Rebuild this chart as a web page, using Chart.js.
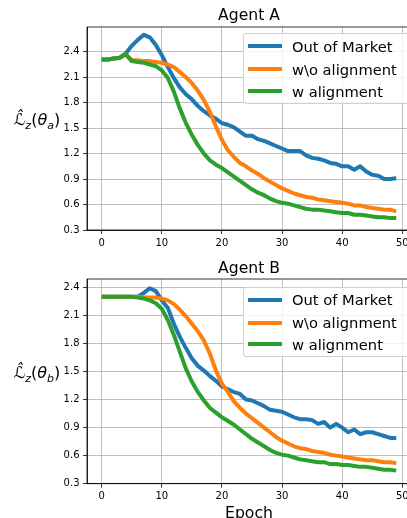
<!DOCTYPE html>
<html>
<head>
<meta charset="utf-8">
<script src="https://cdn.jsdelivr.net/npm/chart.js@4/dist/chart.umd.min.js"></script>
<style>
  html, body { margin:0; padding:0; background:#fff; }
  body { width:407px; height:518px; overflow:hidden; position:relative; font-family:'DejaVu Sans', sans-serif; color:#000; }
  .wrap { position:absolute; left:0; }
  .title { position:absolute; font-size:15.6px; transform:translate(-50%,-50%); white-space:nowrap; }
  .ylab { position:absolute; font-size:16px; transform:translate(-50%,-50%); white-space:nowrap; }
  .ylab sub { font-size:11px; vertical-align:-4px; }
  .legend { position:absolute; left:243px; width:180px; border:1px solid #d0d0d0; border-radius:3px; background:rgba(255,255,255,0.8); box-sizing:border-box; }
  .item { position:absolute; left:0; height:0; }
  .swatch { position:absolute; left:4px; width:34px; height:4px; top:-2px; }
  .ltext { position:absolute; left:48px; top:-9.5px; font-size:14.7px; line-height:19px; white-space:nowrap; }
</style>
</head>
<body>
<div class="wrap" style="top:0;width:430px;height:255px"><canvas id="cA" width="430" height="255"></canvas></div>
<div class="wrap" style="top:255px;width:430px;height:263px"><canvas id="cB" width="430" height="263"></canvas></div>

<div class="title" style="left:249px;top:14.5px">Agent A</div>
<div class="title" style="left:249px;top:268px">Agent B</div>
<div class="ylab" style="left:37px;top:121px"><i>ℒ̂</i><sub><i>z</i></sub>(<i>θ</i><sub><i>a</i></sub>)</div>
<div class="ylab" style="left:37px;top:374px"><i>ℒ̂</i><sub><i>z</i></sub>(<i>θ</i><sub><i>b</i></sub>)</div>
<div class="title" style="left:249px;top:512px;font-size:15.7px">Epoch</div>

<div class="legend" style="top:33px;height:71px">
  <div class="item" style="top:12.3px"><div class="swatch" style="background:#1f77b4"></div><div class="ltext">Out of Market</div></div>
  <div class="item" style="top:35px"><div class="swatch" style="background:#ff7f0e"></div><div class="ltext">w\o alignment</div></div>
  <div class="item" style="top:57.3px"><div class="swatch" style="background:#2ca02c"></div><div class="ltext">w alignment</div></div>
</div>
<div class="legend" style="top:286.7px;height:70px">
  <div class="item" style="top:12.3px"><div class="swatch" style="background:#1f77b4"></div><div class="ltext">Out of Market</div></div>
  <div class="item" style="top:35px"><div class="swatch" style="background:#ff7f0e"></div><div class="ltext">w\o alignment</div></div>
  <div class="item" style="top:56.6px"><div class="swatch" style="background:#2ca02c"></div><div class="ltext">w alignment</div></div>
</div>

<script>
const epochs = Array.from({length: 50}, (_, i) => i);
const xTicks = [0, 10, 20, 30, 40, 50];
const yTicks = [0.3, 0.6, 0.9, 1.2, 1.5, 1.8, 2.1, 2.4];
const seriesNames = ['Out of Market', 'w\\o alignment', 'w alignment'];

const agentA_out = [2.31,2.31,2.32,2.33,2.38,2.47,2.54,2.60,2.57,2.48,
  2.36,2.22,2.09,1.98,1.90,1.84,1.76,1.70,1.65,1.61,
  1.56,1.54,1.51,1.46,1.41,1.41,1.37,1.35,1.32,1.29,
  1.26,1.23,1.23,1.23,1.18,1.15,1.14,1.12,1.09,1.08,
  1.05,1.05,1.01,1.05,0.99,0.95,0.94,0.90,0.90,0.91];
const agentA_wo = [2.31,2.31,2.32,2.33,2.37,2.30,2.30,2.29,2.29,2.28,
  2.27,2.25,2.22,2.16,2.10,2.03,1.94,1.83,1.69,1.52,
  1.36,1.24,1.16,1.09,1.05,1.00,0.96,0.91,0.87,0.83,
  0.79,0.76,0.73,0.71,0.69,0.68,0.66,0.65,0.64,0.63,
  0.62,0.61,0.59,0.59,0.57,0.56,0.55,0.54,0.54,0.52];
const agentA_w = [2.31,2.31,2.32,2.33,2.37,2.29,2.28,2.27,2.25,2.23,
  2.18,2.09,1.93,1.73,1.56,1.42,1.30,1.20,1.12,1.07,
  1.03,0.98,0.93,0.88,0.83,0.78,0.74,0.71,0.67,0.64,
  0.62,0.61,0.59,0.57,0.55,0.54,0.54,0.53,0.52,0.51,
  0.50,0.50,0.48,0.48,0.47,0.46,0.45,0.45,0.44,0.44];

const agentB_out = [2.30,2.30,2.30,2.30,2.30,2.30,2.30,2.34,2.39,2.36,
  2.26,2.18,2.01,1.87,1.75,1.64,1.56,1.51,1.45,1.40,
  1.34,1.31,1.28,1.26,1.20,1.19,1.16,1.13,1.09,1.08,
  1.07,1.04,1.01,0.99,0.99,0.98,0.94,0.96,0.90,0.94,
  0.90,0.85,0.88,0.83,0.85,0.85,0.83,0.81,0.79,0.79];
const agentB_wo = [2.30,2.30,2.30,2.30,2.30,2.30,2.30,2.29,2.29,2.29,
  2.28,2.26,2.22,2.16,2.09,2.01,1.93,1.83,1.69,1.51,
  1.37,1.28,1.18,1.11,1.05,1.00,0.95,0.90,0.85,0.80,
  0.76,0.73,0.70,0.68,0.67,0.65,0.64,0.63,0.61,0.60,
  0.59,0.58,0.57,0.56,0.55,0.55,0.54,0.53,0.53,0.52];
const agentB_w = [2.30,2.30,2.30,2.30,2.30,2.30,2.29,2.28,2.26,2.23,
  2.17,2.05,1.89,1.71,1.53,1.39,1.28,1.19,1.11,1.06,
  1.01,0.97,0.93,0.88,0.83,0.78,0.74,0.70,0.66,0.63,
  0.61,0.60,0.58,0.56,0.55,0.54,0.53,0.53,0.51,0.51,
  0.50,0.50,0.49,0.48,0.48,0.47,0.46,0.45,0.45,0.44];

const colors = ['#1f77b4', '#ff7f0e', '#2ca02c'];

const framePlugin = {
  id: 'frame',
  afterDraw(chart) {
    const a = chart.chartArea, ctx = chart.ctx;
    ctx.save();
    ctx.strokeStyle = '#000';
    ctx.lineWidth = 0.8;
    ctx.strokeRect(a.left, a.top, a.right - a.left, a.bottom - a.top);
    ctx.restore();
  }
};

function makeChart(id, series, yMax, padTop, xAxisH) {
  const datasets = series.map((vals, k) => ({
    label: seriesNames[k],
    data: epochs.map((e, i) => ({x: e, y: vals[i]})),
    borderColor: colors[k],
    backgroundColor: colors[k],
    borderWidth: 4,
    pointRadius: 0,
    tension: 0,
    borderJoinStyle: 'round',
    borderCapStyle: 'butt',
    order: 3 - k
  }));
  return new Chart(document.getElementById(id), {
    type: 'line',
    data: { datasets },
    plugins: [framePlugin],
    options: {
      responsive: false,
      animation: false,
      devicePixelRatio: 1,
      layout: { padding: { left: 0, right: 19, top: padTop, bottom: 0 } },
      plugins: { legend: { display: false }, tooltip: { enabled: false }, title: { display: false } },
      scales: {
        x: {
          type: 'linear', min: -2.45, max: 51.45,
          afterBuildTicks: s => { s.ticks = xTicks.map(v => ({value: v})); },
          afterFit: s => { s.height = xAxisH; },
          grid: { color: '#b0b0b0', lineWidth: 0.8, tickColor: '#000', tickLength: 4 },
          border: { display: true, color: '#000', width: 0.8 },
          ticks: { font: { family: 'DejaVu Sans', size: 10 }, color: '#000', padding: 3, maxRotation: 0, autoSkip: false,
                   callback: v => String(v) }
        },
        y: {
          type: 'linear', min: 0.3, max: yMax,
          afterBuildTicks: s => { s.ticks = yTicks.map(v => ({value: v})); },
          afterFit: s => { s.width = 87; },
          grid: { color: '#b0b0b0', lineWidth: 0.8, tickColor: '#000', tickLength: 4 },
          border: { display: true, color: '#000', width: 0.8 },
          ticks: { font: { family: 'DejaVu Sans', size: 10 }, color: '#000', padding: 3.5, autoSkip: false,
                   callback: v => Number(v).toFixed(1) }
        }
      }
    }
  });
}

makeChart('cA', [agentA_out, agentA_wo, agentA_w], 2.692, 27, 25);
makeChart('cB', [agentB_out, agentB_wo, agentB_w], 2.489, 24, 263 - 228.7);
</script>
</body>
</html>
